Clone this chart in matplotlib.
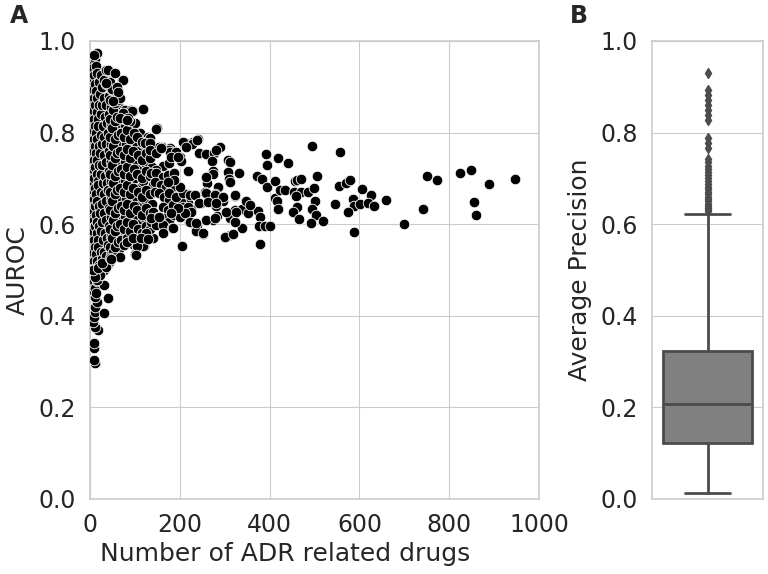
import matplotlib
matplotlib.use("Agg")
import matplotlib.pyplot as plt
import seaborn as sns

sns.set_style("whitegrid")
plt.rcParams['font.family'] = ['DejaVu Sans']

# (number of ADR related drugs, AUROC)
# dense cluster at low counts
dense_pts = [
    (2, 0.93), (3, 0.88), (1, 0.84), (2, 0.79), (3, 0.75), (1, 0.71), (2, 0.66), (3, 0.62), (1, 0.57), (2, 0.53), (3, 0.49),
    (5, 0.955), (4, 0.91), (5, 0.865), (4, 0.82), (5, 0.775), (4, 0.73), (5, 0.685), (4, 0.64), (5, 0.60), (4, 0.555), (5, 0.51), (4, 0.465),
    (6, 0.97), (7, 0.94), (8, 0.895), (6, 0.85), (7, 0.805), (8, 0.76), (6, 0.72), (7, 0.675), (8, 0.63), (6, 0.585), (7, 0.54), (8, 0.495), (6, 0.455),
    (9, 0.925), (10, 0.875), (9, 0.83), (10, 0.785), (9, 0.74), (10, 0.70), (9, 0.655), (10, 0.61), (9, 0.565), (10, 0.52), (9, 0.475),
    (11, 0.96), (12, 0.905), (11, 0.86), (12, 0.815), (11, 0.77), (12, 0.725), (11, 0.68), (12, 0.64), (11, 0.595), (12, 0.55), (11, 0.505), (12, 0.46),
    (14, 0.945), (13, 0.89), (15, 0.845), (14, 0.80), (13, 0.755), (15, 0.71), (14, 0.665), (13, 0.62), (15, 0.58), (14, 0.535), (13, 0.49),
    (17, 0.93), (16, 0.875), (18, 0.83), (17, 0.785), (16, 0.74), (18, 0.695), (17, 0.65), (16, 0.605), (18, 0.565), (17, 0.52), (16, 0.475),
    (20, 0.91), (21, 0.86), (19, 0.815), (20, 0.77), (21, 0.73), (19, 0.685), (20, 0.64), (21, 0.595), (19, 0.55), (20, 0.51),
    (24, 0.925), (23, 0.885), (25, 0.84), (24, 0.795), (23, 0.755), (25, 0.71), (24, 0.67), (23, 0.625), (25, 0.585), (24, 0.54), (23, 0.50),
    (28, 0.90), (27, 0.86), (29, 0.815), (28, 0.775), (27, 0.73), (29, 0.69), (28, 0.645), (27, 0.605), (29, 0.565), (28, 0.525),
    (32, 0.915), (31, 0.875), (33, 0.835), (32, 0.79), (31, 0.75), (33, 0.705), (32, 0.665), (31, 0.625), (33, 0.58), (32, 0.54), (31, 0.50),
    (37, 0.905), (36, 0.86), (38, 0.82), (37, 0.775), (36, 0.735), (38, 0.69), (37, 0.65), (36, 0.61), (38, 0.57), (37, 0.53),
    (41, 0.935), (42, 0.88), (43, 0.84), (41, 0.80), (42, 0.76), (43, 0.715), (41, 0.675), (42, 0.635), (43, 0.595), (41, 0.555), (42, 0.515),
    (47, 0.895), (46, 0.855), (48, 0.815), (47, 0.775), (46, 0.735), (48, 0.695), (47, 0.655), (46, 0.615), (48, 0.575), (47, 0.535),
    (54, 0.93), (52, 0.87), (53, 0.83), (54, 0.79), (52, 0.75), (53, 0.71), (54, 0.67), (52, 0.63), (53, 0.59), (54, 0.55),
    (59, 0.885), (58, 0.845), (60, 0.805), (59, 0.765), (58, 0.725), (60, 0.685), (59, 0.645), (58, 0.605), (60, 0.565), (59, 0.53),
    (63, 0.89), (65, 0.855), (66, 0.82), (64, 0.78), (65, 0.74), (66, 0.70), (64, 0.66), (65, 0.62), (66, 0.58), (64, 0.545),
    (72, 0.915), (71, 0.84), (73, 0.80), (72, 0.76), (71, 0.72), (73, 0.68), (72, 0.64), (71, 0.60), (73, 0.56),
    (79, 0.85), (78, 0.815), (80, 0.775), (79, 0.735), (78, 0.695), (80, 0.655), (79, 0.615), (78, 0.575),
    (86, 0.83), (85, 0.79), (87, 0.75), (86, 0.71), (85, 0.67), (87, 0.63), (86, 0.59), (84, 0.56),
    (93, 0.845), (95, 0.805), (94, 0.765), (93, 0.725), (95, 0.685), (94, 0.645), (93, 0.605), (95, 0.565),
    (101, 0.82), (103, 0.78), (102, 0.74), (101, 0.70), (103, 0.66), (102, 0.62), (101, 0.58), (103, 0.535),
    (111, 0.80), (110, 0.76), (112, 0.72), (111, 0.68), (110, 0.64), (112, 0.60), (111, 0.565),
    (118, 0.852), (120, 0.775), (121, 0.735), (119, 0.695), (120, 0.655), (121, 0.615), (120, 0.553),
    (129, 0.79), (128, 0.75), (130, 0.71), (129, 0.67), (128, 0.63), (130, 0.59),
    (139, 0.765), (138, 0.725), (140, 0.685), (139, 0.645), (138, 0.605), (140, 0.57),
]

# more points packed between the ones above
fill_pts = [
    (44, 0.91), (45, 0.87), (44, 0.83), (45, 0.79), (44, 0.75), (45, 0.71), (44, 0.67), (45, 0.63), (44, 0.59), (45, 0.55), (44, 0.52),
    (50, 0.895), (51, 0.85), (50, 0.81), (51, 0.77), (50, 0.73), (51, 0.69), (50, 0.65), (51, 0.61), (50, 0.57), (51, 0.54),
    (56, 0.865), (57, 0.825), (56, 0.785), (57, 0.745), (56, 0.705), (57, 0.665), (56, 0.625), (57, 0.585), (56, 0.55),
    (62, 0.87), (61, 0.835), (62, 0.795), (61, 0.755), (62, 0.715), (61, 0.675), (62, 0.635), (61, 0.595), (62, 0.56),
    (68, 0.875), (69, 0.80), (68, 0.76), (69, 0.72), (68, 0.68), (69, 0.64), (68, 0.60), (69, 0.565),
    (75, 0.83), (76, 0.79), (75, 0.75), (76, 0.71), (75, 0.67), (76, 0.63), (75, 0.59), (76, 0.555),
    (82, 0.805), (83, 0.765), (82, 0.725), (83, 0.685), (82, 0.645), (83, 0.605), (82, 0.57),
    (90, 0.825), (89, 0.785), (90, 0.745), (89, 0.705), (90, 0.665), (89, 0.625), (90, 0.585),
    (98, 0.80), (97, 0.76), (98, 0.72), (97, 0.68), (98, 0.64), (97, 0.60), (98, 0.555),
    (106, 0.79), (107, 0.75), (106, 0.71), (107, 0.67), (106, 0.63), (107, 0.59), (106, 0.55),
    (115, 0.78), (116, 0.74), (115, 0.70), (116, 0.66), (115, 0.62), (116, 0.58),
    (124, 0.755), (125, 0.715), (124, 0.675), (125, 0.635), (124, 0.595), (125, 0.565),
    (134, 0.745), (133, 0.705), (134, 0.665), (133, 0.625), (134, 0.59),
]

# outline of the cluster (top and bottom edges)
edge_pts = [
    (15, 0.973), (10, 0.969), (37, 0.937), (40, 0.937), (56, 0.929), (73, 0.915), (36, 0.908),
    (60, 0.900), (63, 0.889), (51, 0.868), (78, 0.849), (92, 0.849), (95, 0.846), (93, 0.846),
    (73, 0.843), (118, 0.851), (66, 0.831), (84, 0.831), (82, 0.828), (149, 0.809), (134, 0.788),
    (123, 0.777), (142, 0.766), (160, 0.769), (179, 0.766), (155, 0.769), (177, 0.762),
    (200, 0.747), (214, 0.777), (229, 0.780), (240, 0.785), (162, 0.726), (177, 0.733), (148, 0.718),
    (12, 0.296), (9, 0.303), (9, 0.329), (9, 0.341), (19, 0.369), (12, 0.376), (8, 0.387),
    (9, 0.398), (12, 0.409), (32, 0.407), (12, 0.420), (15, 0.431), (12, 0.442), (14, 0.449),
    (41, 0.438), (32, 0.467), (15, 0.478), (23, 0.489), (12, 0.485), (8, 0.500), (19, 0.504),
    (37, 0.506), (26, 0.515), (45, 0.526), (66, 0.528), (101, 0.535), (119, 0.553), (104, 0.552),
    (82, 0.562), (97, 0.569), (47, 0.524), (103, 0.533),
]

# medium counts
mid_pts = [
    (148, 0.808), (208, 0.779), (227, 0.774), (239, 0.784), (213, 0.769), (244, 0.755), (259, 0.753),
    (276, 0.755), (290, 0.769), (272, 0.738), (280, 0.761), (307, 0.739), (313, 0.735), (308, 0.714),
    (333, 0.712), (218, 0.716), (274, 0.716), (274, 0.709), (310, 0.698), (311, 0.691), (261, 0.689),
    (286, 0.681), (257, 0.670), (278, 0.665), (286, 0.658), (322, 0.662), (296, 0.651), (248, 0.646),
    (262, 0.651), (280, 0.640), (305, 0.627), (323, 0.630), (338, 0.632), (353, 0.625), (375, 0.629),
    (348, 0.651), (357, 0.642), (311, 0.613), (323, 0.605), (339, 0.591), (258, 0.609), (275, 0.609),
    (283, 0.618), (378, 0.616), (376, 0.595), (389, 0.595), (401, 0.597), (300, 0.571), (312, 0.576),
    (318, 0.579), (379, 0.557), (206, 0.552), (251, 0.579), (236, 0.584), (183, 0.591), (231, 0.600),
    (238, 0.598), (393, 0.753), (394, 0.730), (419, 0.744), (371, 0.706), (383, 0.699), (394, 0.682),
    (411, 0.694), (411, 0.658), (417, 0.650), (418, 0.633), (217, 0.665), (231, 0.664), (219, 0.647),
    (226, 0.634), (207, 0.620), (220, 0.605), (259, 0.702), (179, 0.758), (192, 0.758), (181, 0.747),
    (203, 0.738), (196, 0.747), (133, 0.777), (133, 0.762), (148, 0.756), (159, 0.766),
    (136, 0.711), (148, 0.711), (162, 0.704), (173, 0.707), (188, 0.711), (144, 0.693), (159, 0.685),
    (170, 0.682), (181, 0.678), (144, 0.671), (155, 0.667), (166, 0.660), (177, 0.653), (192, 0.649),
    (203, 0.649), (207, 0.638), (218, 0.638), (226, 0.627), (162, 0.638), (173, 0.631), (185, 0.624),
    (140, 0.627), (151, 0.616), (166, 0.613), (177, 0.605), (188, 0.620), (200, 0.616), (211, 0.624),
    (136, 0.605), (148, 0.598), (162, 0.598), (185, 0.642), (196, 0.635), (177, 0.667), (192, 0.660),
    (207, 0.667), (200, 0.682), (188, 0.696), (173, 0.693),
    (182, 0.591), (125, 0.580), (114, 0.569), (129, 0.567), (162, 0.580), (136, 0.613), (155, 0.616),
    (181, 0.624), (222, 0.664), (233, 0.664), (259, 0.667), (278, 0.664), (296, 0.660), (322, 0.664),
    (244, 0.646), (263, 0.649), (281, 0.646), (304, 0.627), (322, 0.605), (326, 0.627), (237, 0.584),
    (251, 0.580), (300, 0.573), (318, 0.579), (259, 0.609), (278, 0.613), (222, 0.605), (237, 0.602),
    (185, 0.591),
]

# high counts
sparse_pts = [
    (700, 0.600), (742, 0.634), (750, 0.705), (773, 0.696), (824, 0.711), (848, 0.718), (888, 0.687),
    (854, 0.648), (860, 0.620), (946, 0.699), (495, 0.770), (556, 0.758), (440, 0.734), (456, 0.694),
    (462, 0.697), (471, 0.699), (506, 0.706), (423, 0.675), (434, 0.675), (454, 0.671), (469, 0.671),
    (486, 0.671), (498, 0.680), (458, 0.662), (502, 0.651), (460, 0.638), (452, 0.627), (495, 0.632),
    (504, 0.619), (465, 0.612), (492, 0.602), (518, 0.606), (546, 0.643), (555, 0.683), (571, 0.689),
    (579, 0.697), (606, 0.676), (625, 0.663), (585, 0.654), (588, 0.640), (601, 0.644), (619, 0.646),
    (632, 0.640), (660, 0.652), (574, 0.626), (588, 0.582),
]

# panel B: average precision box summary
ap_stats = dict(med=0.207, q1=0.1215, q3=0.323, whislo=0.014, whishi=0.622)
ap_outliers = [0.628, 0.632, 0.636, 0.640, 0.645, 0.650, 0.655, 0.660, 0.665, 0.670, 0.676,
               0.682, 0.688, 0.694, 0.700, 0.707, 0.714, 0.720, 0.728, 0.735, 0.742,
               0.766, 0.777, 0.788, 0.828, 0.838, 0.849, 0.860, 0.871, 0.882, 0.893, 0.931]

all_pts = dense_pts + fill_pts + edge_pts + mid_pts + sparse_pts
n_drugs = [p[0] for p in all_pts]
auroc = [p[1] for p in all_pts]

fig = plt.figure(figsize=(7.68, 5.74), dpi=100)
ax1 = fig.add_axes([0.117, 0.1307, 0.585, 0.798])
ax2 = fig.add_axes([0.8486, 0.1307, 0.1453, 0.798])

tick_size = 17
label_size = 18
text_col = '#262626'

ax1.scatter(n_drugs, auroc, s=58, c='black', edgecolors='white', linewidths=0.6, zorder=3)
ax1.set_xlim(0, 1000)
ax1.set_ylim(0, 1.0)
ax1.set_xticks([0, 200, 400, 600, 800, 1000])
ax1.set_yticks([0, 0.2, 0.4, 0.6, 0.8, 1.0])
ax1.set_xlabel("Number of ADR related drugs", fontsize=label_size, color=text_col)
ax1.xaxis.set_label_coords(0.434, -0.093)
ax1.set_ylabel("AUROC", fontsize=label_size, color=text_col, labelpad=6)

st = dict(ap_stats)
st['fliers'] = ap_outliers
ax2.bxp([st], positions=[0], widths=0.8, capwidths=[0.4], patch_artist=True,
        boxprops=dict(facecolor='#808080', edgecolor='#4c4c4c', linewidth=2),
        medianprops=dict(color='#4c4c4c', linewidth=2),
        whiskerprops=dict(color='#4c4c4c', linewidth=2),
        capprops=dict(color='#4c4c4c', linewidth=2),
        flierprops=dict(marker='d', markerfacecolor='#4c4c4c', markeredgecolor='#4c4c4c', markersize=5))
ax2.set_xlim(-0.5, 0.5)
ax2.set_ylim(0, 1.0)
ax2.set_xticks([])
ax2.set_yticks([0, 0.2, 0.4, 0.6, 0.8, 1.0])
ax2.set_ylabel("Average Precision", fontsize=label_size, color=text_col, labelpad=6)
ax2.grid(axis='x', visible=False)

for ax in (ax1, ax2):
    ax.tick_params(labelsize=tick_size, colors=text_col, length=0, pad=10)
    for sp in ax.spines.values():
        sp.set_color('#cccccc')
        sp.set_linewidth(1.2)

fig.text(0.013, 0.96, "A", fontsize=17, fontweight='bold', color=text_col)
fig.text(0.742, 0.96, "B", fontsize=17, fontweight='bold', color=text_col)

fig.savefig("out.png", dpi=100)
